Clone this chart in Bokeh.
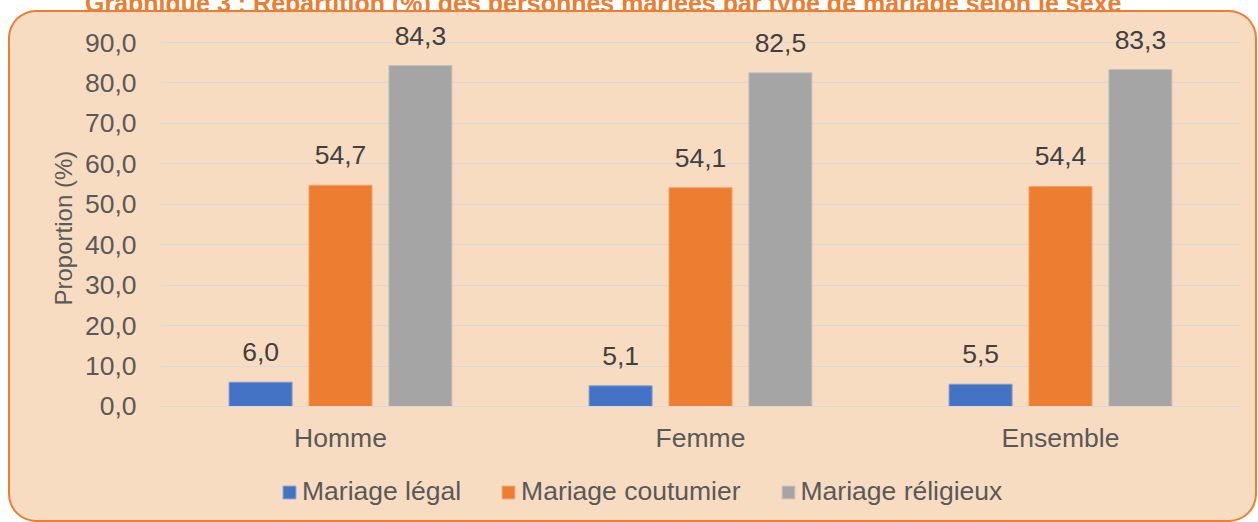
from bokeh.plotting import figure
from bokeh.models import (ColumnDataSource, FactorRange, Range1d, FixedTicker,
                          CustomJSTickFormatter, Legend, LegendItem, Title, Div)
from bokeh.transform import dodge
from bokeh.core.properties import value
from bokeh.embed import file_html
from bokeh.resources import INLINE

# ---- data ----
chart_title = "Graphique 3 : Répartition (%) des personnes mariées par type de mariage selon le sexe"
categories = ["Homme", "Femme", "Ensemble"]
mariage_legal = [6.0, 5.1, 5.5]
mariage_coutumier = [54.7, 54.1, 54.4]
mariage_religieux = [84.3, 82.5, 83.3]
series_names = ["Mariage légal", "Mariage coutumier", "Mariage réligieux"]
y_ticks = [0, 10, 20, 30, 40, 50, 60, 70, 80, 90]
y_axis_title = "Proportion (%)"

FONT = "Liberation Sans"
FS = "26.5px"
PANEL = "#F8DCC1"
colors = ["#4472C4", "#ED7D31", "#A5A5A5"]
edge_colors = ["#7E9BD4", "#F2A068", "#C2C2C2"]

def fmt(v):
    return f"{v:.1f}".replace(".", ",")

src = ColumnDataSource(dict(
    cat=categories,
    legal=mariage_legal,
    cout=mariage_coutumier,
    reli=mariage_religieux,
    legal_lbl=[fmt(v) for v in mariage_legal],
    cout_lbl=[fmt(v) for v in mariage_coutumier],
    reli_lbl=[fmt(v) for v in mariage_religieux],
))

# title strip (mostly cut off at the top of the page, as in the reference)
title_div = Div(
    text=(f'<div style="margin-top:-25px;padding-left:85px;white-space:nowrap;'
          f'font-family:\'Liberation Sans\';font-weight:bold;font-size:25px;'
          f'color:#ED7D31;">{chart_title}</div>'),
    width=1250, height=12, margin=0)

# frame spans the full canvas height; y=0 sits 114px above the bottom
p = figure(width=1245, height=508, x_range=FactorRange(*categories),
           y_range=Range1d(-28.19, 97.42), output_backend="svg", toolbar_location=None,
           min_border_left=150, min_border_right=15, min_border_top=0,
           min_border_bottom=0)
p.styles = {"margin-left": "10px", "background-color": PANEL,
            "border-radius": "26px", "overflow": "hidden",
            "box-shadow": "0 0 0 2px #ED7D31"}
p.border_fill_color = None
p.background_fill_color = None
p.outline_line_color = None

offsets = [-0.222, 0.0, 0.222]
fields = ["legal", "cout", "reli"]
renderers = []
for f, off, c, ec in zip(fields, offsets, colors, edge_colors):
    r = p.vbar(x=dodge("cat", off, range=p.x_range), top=f, width=0.175,
               source=src, fill_color=c, line_color=ec, line_width=1)
    renderers.append(r)
    p.text(x=dodge("cat", off, range=p.x_range), y=f, text=f + "_lbl",
           source=src, text_align="center", text_baseline="alphabetic",
           y_offset=-30, text_font=value(FONT), text_font_size=FS,
           text_color="#404040")

# y axis
p.yaxis.ticker = FixedTicker(ticks=y_ticks)
p.yaxis.formatter = CustomJSTickFormatter(code="return tick.toFixed(1).replace('.', ',')")
p.yaxis.axis_line_color = None
p.yaxis.major_tick_line_color = None
p.yaxis.minor_tick_line_color = None
p.yaxis.major_label_standoff = 18
p.yaxis.major_label_text_font = FONT
p.yaxis.major_label_text_font_size = FS
p.yaxis.major_label_text_color = "#595959"

ytitle = Title(text=y_axis_title, align="left", offset=215, standoff=9,
               text_font=FONT, text_font_size="24px", text_font_style="normal",
               text_color="#595959")
p.add_layout(ytitle, "left")

# x axis drawn at y = 0
p.xaxis.fixed_location = 0
p.xaxis.axis_line_color = "#D9D9D9"
p.xaxis.axis_line_width = 1
p.xaxis.major_tick_line_color = None
p.xaxis.minor_tick_line_color = None
p.xaxis.major_label_standoff = 11
p.xaxis.major_label_text_font = FONT
p.xaxis.major_label_text_font_size = FS
p.xaxis.major_label_text_color = "#595959"

p.xgrid.grid_line_color = None
p.ygrid.grid_line_color = "#D9D9D9"
p.ygrid.grid_line_width = 1

legend = Legend(items=[LegendItem(label=n, renderers=[r]) for n, r in zip(series_names, renderers)],
                orientation="horizontal", location=(121, 13),
                glyph_width=16, glyph_height=16, label_standoff=5, spacing=39,
                padding=0, margin=0, border_line_color=None,
                background_fill_alpha=0, label_text_font=FONT,
                label_text_font_size=FS, label_text_color="#595959")
p.add_layout(legend)

open("out.html", "w").write(file_html([title_div, p], INLINE))
